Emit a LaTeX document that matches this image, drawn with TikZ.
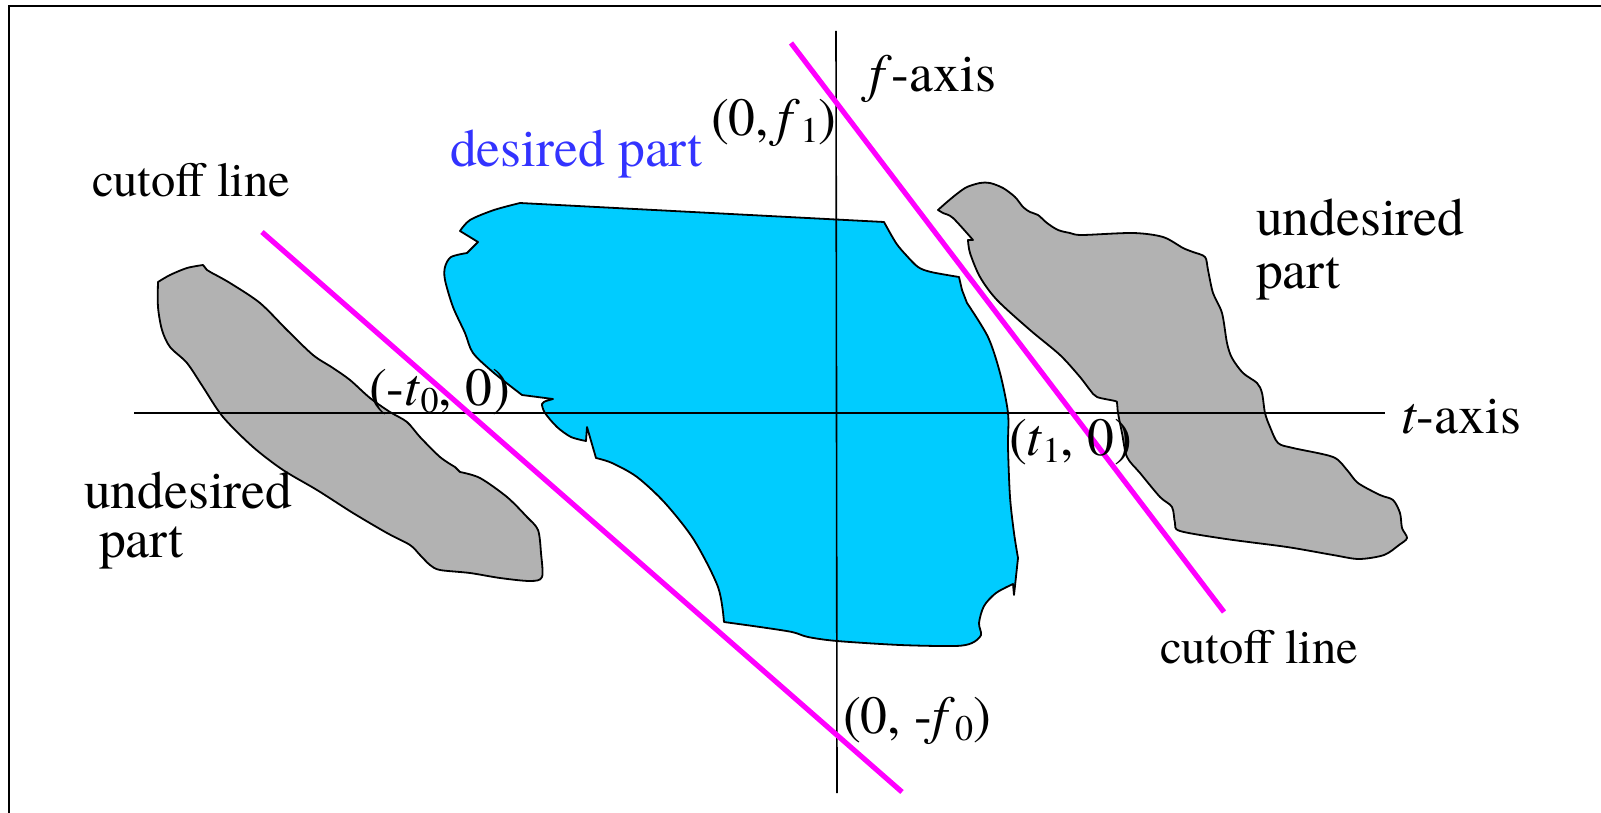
\documentclass[tikz,border=0pt]{standalone}
\usepackage{fontspec}
\setmainfont{texgyretermes}[Extension=.otf, UprightFont=*-regular, ItalicFont=*-italic, BoldFont=*-bold, BoldItalicFont=*-bolditalic]
\definecolor{skyb}{RGB}{0,204,255}
\definecolor{gry}{RGB}{178,178,178}
\definecolor{mag}{RGB}{255,0,255}
\definecolor{txtblue}{RGB}{51,51,255}
\newcommand{\mysub}[1]{\raisebox{-3.8pt}{\fontsize{18}{19}\selectfont #1}}
\tikzset{
  blob/.style={draw=black, line width=0.9pt, line join=round},
  bluefill/.style={blob, fill=skyb},
  grayfill/.style={blob, fill=gry},
  axisline/.style={draw=black, line width=0.8pt},
  cutline/.style={draw=mag, line width=2.6pt},
  frameline/.style={draw=black, line width=1pt},
  lbl/.style={anchor=base west, inner sep=0pt, outer sep=0pt, font=\fontsize{26.8}{32}\selectfont},
  cutlbl/.style={lbl, font=\fontsize{24.3}{29}\selectfont},
  sm/.style={smooth, tension=0.5}
}
\begin{document}
\begin{tikzpicture}[x=0.5pt,y=-0.5pt]
\useasboundingbox (0,0) rectangle (1601,813);
% frame
\coordinate (fr1) at (9,813);
\coordinate (fr2) at (9,6);
\coordinate (fr3) at (1601,6);
\draw[frameline] (fr1) -- (fr2) -- (fr3);

% desired (blue) part
\path[bluefill] (520,203) -- (884,222)
  -- plot[sm] coordinates {(884,222) (896,243) (906,255) (918,267) (931,272) (959,277)}
  -- (962,290) -- (967,303)
  -- plot[sm] coordinates {(967,303) (988,337) (1000,373) (1008,413) (1008,447) (1010,497) (1014,533) (1018,558)}
  -- (1014,595) -- (1013,584)
  -- plot[sm] coordinates {(1013,584) (996,593) (984,606) (979,623) (981,635) (972,643) (955,646) (900,645) (837,641) (808,637) (792,632) (760,627) (724,622)}
  -- plot[sm] coordinates {(724,622) (718,587) (694,540) (665,503) (637,477) (612,463) (596,458)}
  -- (587,427) -- (586,441)
  -- plot[sm] coordinates {(586,441) (571,437) (557,427) (545,413) (542,404) (546,401)}
  -- (553,399) -- (522,395)
  -- plot[sm] coordinates {(522,395) (494,373) (473,353) (465,333) (453,307) (445,280) (445,267) (451,257) (467,253)}
  -- (478,242) -- (460,231)
  -- plot[sm] coordinates {(460,231) (470,220) (494,210) (520,203)}
  -- cycle;

% left undesired part
\path[grayfill] (158,282)
  -- plot[sm] coordinates {(158,282) (170,275) (187,268) (203,265)}
  -- (207,270)
  -- plot[sm] coordinates {(212,273) (230,283) (260,303) (287,330) (313,355) (333,368) (350,380) (370,398) (390,412) (407,422) (420,437) (440,457) (455,467)}
  -- plot[sm] coordinates {(460,472) (480,478) (507,497) (527,517) (538,530) (541,553) (542,577) (530,581) (500,578) (470,573) (440,570) (430,565) (420,555) (410,545) (387,533) (353,513) (317,490) (283,470) (253,447) (223,417) (203,387) (187,363) (170,347) (162,330) (158,307) (158,282)}
  -- cycle;

% right undesired part
\path[grayfill] (938,210)
  -- plot[sm] coordinates {(938,210) (947,202) (958,193) (967,187) (980,183) (990,183) (1003,188) (1015,197) (1023,207) (1030,212) (1038,215) (1047,223) (1058,230) (1070,233) (1082,235) (1133,233) (1163,237) (1183,248) (1193,252) (1205,257) (1208,270) (1213,293) (1222,313) (1227,343) (1232,358) (1243,373) (1257,383) (1262,393) (1265,413) (1270,427) (1278,443) (1293,448) (1333,457) (1347,470) (1358,483) (1380,495) (1393,500) (1400,513) (1402,528) (1407,538) (1399,545) (1384,555) (1359,559) (1333,555) (1287,547) (1226,539) (1180,531) (1175,523) (1172,507) (1160,497) (1140,473) (1127,457) (1122,433) (1118,413) (1117,403) (1115,401) (1097,397) (1090,390) (1080,377) (1060,355) (1030,330) (997,300) (980,277) (970,253) (968,240)}
  -- (973,240)
  -- plot[sm] coordinates {(973,240) (953,218) (943,213) (938,210)}
  -- cycle;

% axes
\coordinate (tL) at (134,413);
\coordinate (tR) at (1385,413);
\coordinate (fT) at (836,31);
\coordinate (fB) at (837,793);
\draw[axisline] (tL) -- (tR);
\draw[axisline] (fT) -- (fB);

% cutoff lines
\coordinate (c1a) at (791,43);
\coordinate (c1b) at (1224,612);
\coordinate (c2a) at (262,232);
\coordinate (c2b) at (902,792);
\draw[cutline] (c1a) -- (c1b);
\draw[cutline] (c2a) -- (c2b);

% labels
\node[cutlbl] (cut1) at (92,197) {cutoff line};
\node[cutlbl] (cut2) at (1160,663) {cutoff line};
\node[lbl, text=txtblue] (des) at (450,167) {desired part};
\node[lbl] (f1) at (711,135) {(0,\,\textit{f}\mysub{1})};
\node[lbl] (fax) at (869,92) {\textit{f}-axis};
\node[lbl] (tax) at (1401,433) {\textit{t}-axis};
\node[lbl] (t0) at (369,405) {(-\textit{t}\mysub{0}, 0)};
\node[lbl] (t1) at (1009,455) {(\textit{t}\mysub{1}, 0)};
\node[lbl] (f0) at (843,733) {(0, -\textit{f}\mysub{0})};
\node[lbl] (undR1) at (1256,235) {undesired};
\node[lbl] (undR2) at (1256,288) {part};
\node[lbl] (undL1) at (84,508) {undesired};
\node[lbl] (undL2) at (99,557) {part};
\end{tikzpicture}
\end{document}
